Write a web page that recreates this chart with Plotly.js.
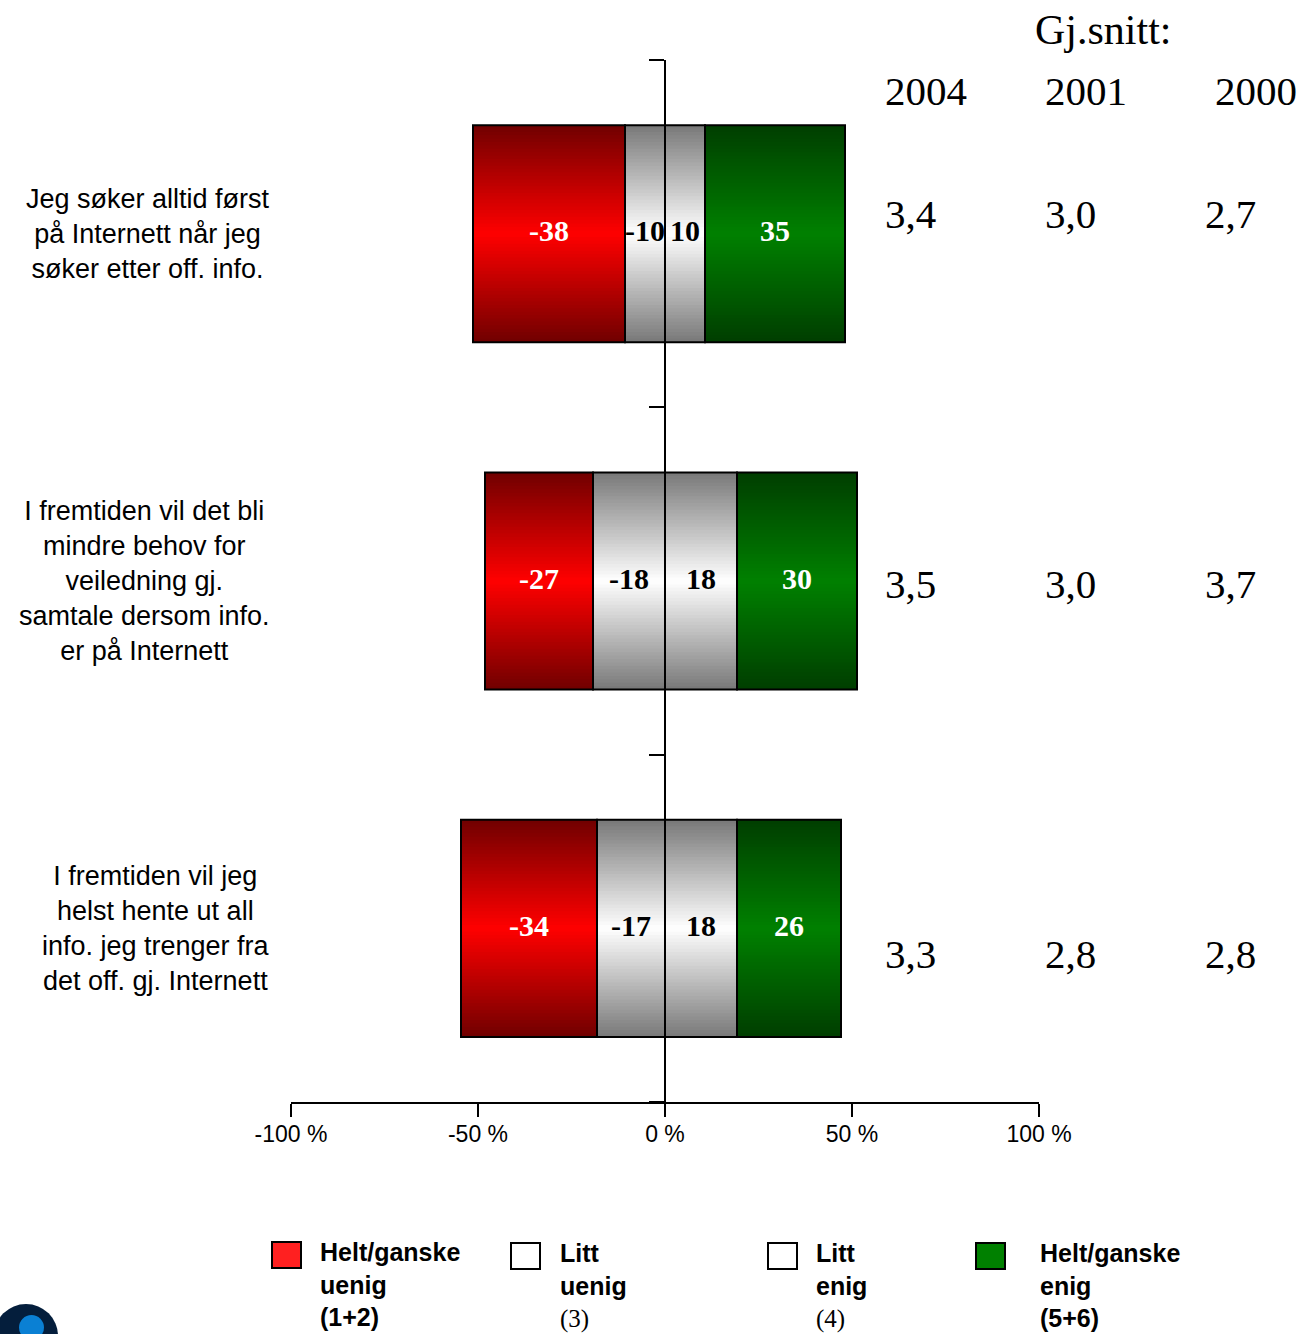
<!DOCTYPE html>
<html><head><meta charset="utf-8">
<script src="https://cdn.plot.ly/plotly-3.0.1.min.js"></script>
<style>html,body{margin:0;padding:0;background:#fff}</style>
</head><body>
<div id="chart" style="width:1302px;height:1334px"></div>
<script>
// ---------- DATA ----------
const categories = [
  "Jeg søker alltid først<br>på Internett når jeg<br>søker etter off. info.",
  "I fremtiden vil det bli<br>mindre behov for<br>veiledning gj.<br>samtale dersom info.<br>er på Internett",
  "I fremtiden vil jeg<br>helst hente ut all<br>info. jeg trenger fra<br>det off. gj. Internett"
];
const heltUenig = [-38, -27, -34];   // Helt/ganske uenig (1+2)
const littUenig = [-10, -18, -17];   // Litt uenig (3)
const littEnig  = [10, 18, 18];      // Litt enig (4)
const heltEnig  = [35, 30, 26];      // Helt/ganske enig (5+6)
const seriesNames = ["Helt/ganske uenig (1+2)", "Litt uenig (3)", "Litt enig (4)", "Helt/ganske enig (5+6)"];
const avgTitle = "Gj.snitt:";
const avgYears = ["2004", "2001", "2000"];
const avg2004 = [3.4, 3.5, 3.3];
const avg2001 = [3.0, 3.0, 2.8];
const avg2000 = [2.7, 3.7, 2.8];
const tickPercents = [-100, -50, 0, 50, 100];

// ---------- LAYOUT HELPERS ----------
const W = 1302, H = 1334;
const L = 291, R = 1039, T = 60, B = 1102;
const px = p => (p - L) / (R - L);
const py = p => (B - p) / (B - T);
const SANS = '"Liberation Sans", Arial, sans-serif';
const SERIF = '"Liberation Serif", "Times New Roman", serif';
const axisScale = 0.935;           // bar units per displayed percent on the axis
const halfRange = 100 * axisScale;

const yPos = categories.map((c, i) => i + 0.5);
const barW = 0.625;
const N = 32;

const segs = [
  {name: seriesNames[0], vals: heltUenig, base: littUenig, dark: [112, 0, 0],   bright: [255, 0, 0],     txt: "#ffffff"},
  {name: seriesNames[1], vals: littUenig, base: littUenig.map(() => 0), dark: [120, 120, 120], bright: [255, 255, 255], txt: "#000000"},
  {name: seriesNames[2], vals: littEnig,  base: littEnig.map(() => 0),  dark: [120, 120, 120], bright: [255, 255, 255], txt: "#000000"},
  {name: seriesNames[3], vals: heltEnig,  base: littEnig,  dark: [0, 62, 0],    bright: [0, 128, 0],     txt: "#ffffff"}
];

const lerp = (a, b, t) => a.map((v, i) => Math.round(v + (b[i] - v) * t));
const rgb = c => `rgb(${c[0]},${c[1]},${c[2]})`;

const traces = [];
segs.forEach(s => {
  for (let k = 0; k < N; k++) {
    const d = 1 - (k + 0.5) / N;
    traces.push({
      type: "bar", orientation: "h", y: yPos, x: s.vals, base: s.base,
      width: barW * (1 - k / N),
      marker: {color: rgb(lerp(s.bright, s.dark, d)), line: {width: 0}},
      hoverinfo: "skip", showlegend: false
    });
  }
});
segs.forEach(s => {
  traces.push({
    type: "bar", orientation: "h", y: yPos, x: s.vals, base: s.base, width: barW,
    name: s.name,
    marker: {color: "rgba(0,0,0,0)", line: {width: 2, color: "#000"}},
    showlegend: false
  });
});
segs.forEach(s => {
  traces.push({
    type: "scatter", mode: "text", y: yPos,
    x: s.vals.map((v, i) => s.base[i] + v / 2),
    text: s.vals.map(v => "<b>" + String(v) + "</b>"),
    textposition: "middle center",
    textfont: {family: SERIF, size: 30, color: s.txt},
    hoverinfo: "skip", showlegend: false
  });
});

const annotations = [];
categories.forEach((c, i) => {
  annotations.push({
    xref: "paper", yref: "y", x: px(272), y: yPos[i], xanchor: "right", yanchor: "middle",
    text: c, align: "center", showarrow: false,
    font: {family: SANS, size: 27, color: "#000"}
  });
});
annotations.push({xref: "paper", yref: "paper", x: px(1033), y: py(30), xanchor: "left", yanchor: "middle",
  text: avgTitle, showarrow: false, font: {family: SERIF, size: 42, color: "#000"}});
const yearX = [883, 1043, 1213];
avgYears.forEach((yr, j) => {
  annotations.push({xref: "paper", yref: "paper", x: px(yearX[j]), y: py(91), xanchor: "left", yanchor: "middle",
    text: yr, showarrow: false, font: {family: SERIF, size: 41, color: "#000"}});
});
const valX = [883, 1043, 1203];
const valY = [214, 584, 954];
const fmt = v => v.toFixed(1).replace(".", ",");
[avg2004, avg2001, avg2000].forEach((arr, j) => {
  arr.forEach((v, i) => {
    annotations.push({xref: "paper", yref: "paper", x: px(valX[j]), y: py(valY[i]), xanchor: "left", yanchor: "middle",
      text: fmt(v), showarrow: false, font: {family: SERIF, size: 41, color: "#000"}});
  });
});

// custom legend
const legendItems = [
  {text: "<b>Helt/ganske<br>uenig<br>(1+2)</b>", fill: "#ff2020", sx: 272, tx: 318, top: 1236},
  {text: "<b>Litt<br>uenig</b><br><span style=\"font-family:Liberation Serif\">(3)</span>", fill: "#ffffff", sx: 511, tx: 558, top: 1237},
  {text: "<b>Litt<br>enig</b><br><span style=\"font-family:Liberation Serif\">(4)</span>", fill: "#ffffff", sx: 768, tx: 814, top: 1237},
  {text: "<b>Helt/ganske<br>enig<br>(5+6)</b>", fill: "#008000", sx: 976, tx: 1038, top: 1237}
];
const shapes = [];
legendItems.forEach(it => {
  shapes.push({type: "rect", xref: "paper", yref: "paper",
    x0: px(it.sx), x1: px(it.sx + 29), y0: py(it.top + 6), y1: py(it.top + 32),
    fillcolor: it.fill, line: {color: "#000", width: 2}});
  annotations.push({xref: "paper", yref: "paper", x: px(it.tx), y: py(it.top), xanchor: "left", yanchor: "top",
    text: it.text, align: "left", showarrow: false, font: {family: SANS, size: 25, color: "#000"}});
});
// logo fragment bottom-left
shapes.push({type: "circle", xref: "paper", yref: "paper", x0: px(-6), x1: px(58), y0: py(1304), y1: py(1368),
  fillcolor: "#041e3c", line: {width: 0}});
shapes.push({type: "circle", xref: "paper", yref: "paper", x0: px(19), x1: px(44), y0: py(1315), y1: py(1340),
  fillcolor: "#0a80d4", line: {width: 0}});

const layout = {
  width: W, height: H,
  margin: {l: L, r: W - R, t: T, b: H - B, pad: 0},
  paper_bgcolor: "#fff", plot_bgcolor: "rgba(0,0,0,0)",
  barmode: "overlay", showlegend: false,
  xaxis: {
    range: [-halfRange, halfRange], showgrid: false, zeroline: false,
    showline: true, linecolor: "#000", linewidth: 2,
    ticks: "outside", ticklen: 13, tickwidth: 2, tickcolor: "#000",
    tickvals: tickPercents.map(p => p * axisScale),
    ticktext: tickPercents.map(p => p + " %"),
    tickfont: {family: SANS, size: 23, color: "#000"},
    ticklabelstandoff: -3,
    fixedrange: true
  },
  yaxis: {
    range: [categories.length, 0], anchor: "free", position: 0.5,
    showgrid: false, zeroline: false,
    showline: true, linecolor: "#000", linewidth: 2,
    ticks: "outside", ticklen: 15, tickwidth: 2, tickcolor: "#000",
    tickvals: categories.map((c, i) => i).concat([categories.length]),
    showticklabels: false, fixedrange: true
  },
  annotations: annotations,
  shapes: shapes
};

Plotly.newPlot("chart", traces, layout, {displayModeBar: false, staticPlot: true});
</script>
</body></html>
